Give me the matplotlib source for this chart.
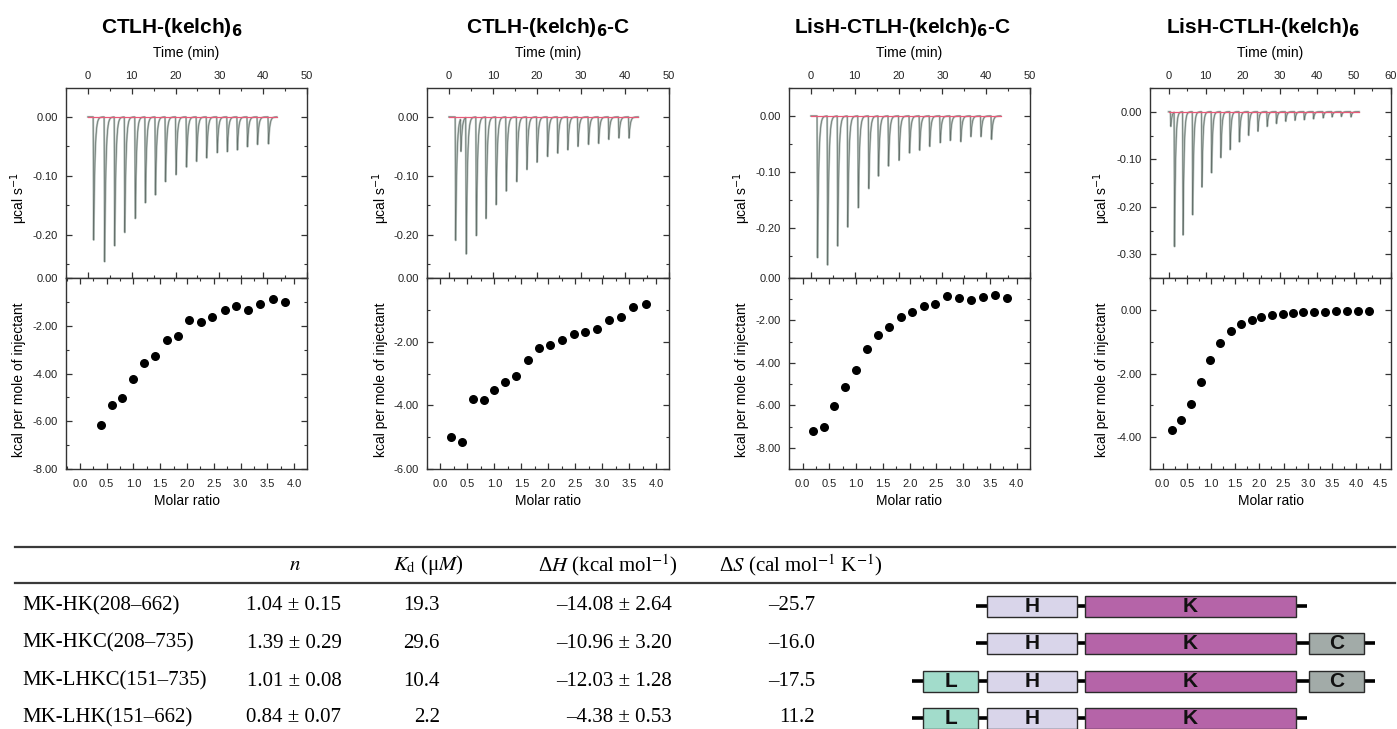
import matplotlib
matplotlib.use('Agg')
import matplotlib.pyplot as plt
import numpy as np
from matplotlib.ticker import MultipleLocator, FormatStrFormatter
from matplotlib.patches import Rectangle

plt.rcParams['font.family'] = ['Liberation Sans', 'DejaVu Sans']
plt.rcParams['axes.unicode_minus'] = False

W, H = 1397, 729

titles = [r'CTLH-(kelch)$_\mathbf{6}$', r'CTLH-(kelch)$_\mathbf{6}$-C',
          r'LisH-CTLH-(kelch)$_\mathbf{6}$-C', r'LisH-CTLH-(kelch)$_\mathbf{6}$']

# raw ITC: injection times (min) and peak minima (ucal/s)
t1 = [1.2, 3.7, 6.0, 8.3, 10.7, 13.0, 15.3, 17.6, 20.0, 22.4, 24.7, 27.0, 29.4, 31.7, 34.0, 36.3, 38.6, 41.1]
p1 = [-0.210, -0.247, -0.219, -0.196, -0.173, -0.147, -0.133, -0.110, -0.098,
      -0.085, -0.076, -0.070, -0.061, -0.059, -0.056, -0.051, -0.047, -0.046]
t2 = [1.4, 2.6, 3.8, 6.1, 8.3, 10.6, 12.9, 15.3, 17.6, 19.9, 22.3, 24.6, 26.9, 29.2, 31.6, 33.9, 36.2, 38.5, 40.8]
p2 = [-0.210, -0.056, -0.234, -0.202, -0.173, -0.150, -0.126, -0.110, -0.090, -0.077,
      -0.067, -0.062, -0.056, -0.050, -0.047, -0.045, -0.038, -0.036, -0.036]
t3 = [1.4, 3.7, 6.0, 8.3, 10.7, 13.1, 15.3, 17.6, 20.0, 22.4, 24.7, 27.0, 29.4, 31.7, 34.1, 36.4, 38.7, 41.1]
p3 = [-0.254, -0.267, -0.233, -0.199, -0.165, -0.131, -0.108, -0.090, -0.080,
      -0.067, -0.062, -0.055, -0.048, -0.044, -0.046, -0.037, -0.037, -0.042]
t4 = [0.5, 1.5, 3.8, 6.4, 8.9, 11.5, 14.0, 16.5, 19.0, 21.5, 24.0, 26.5, 29.0, 31.5, 34.0, 36.5, 39.0, 41.6, 44.0, 46.5, 49.1]
p4 = [-0.031, -0.285, -0.263, -0.219, -0.160, -0.130, -0.097, -0.080, -0.064, -0.050, -0.041,
      -0.031, -0.025, -0.020, -0.018, -0.017, -0.015, -0.013, -0.011, -0.010, -0.011]
t_end = [43.1, 43.0, 43.3, 51.4]

# integrated heats: molar ratio vs kcal per mole of injectant
r1 = [0.39, 0.59, 0.79, 0.99, 1.20, 1.40, 1.62, 1.83, 2.04, 2.26, 2.47, 2.70, 2.92, 3.13, 3.37, 3.60, 3.83]
q1 = [-6.14, -5.31, -5.03, -4.25, -3.56, -3.27, -2.61, -2.44, -1.77, -1.83, -1.63, -1.33, -1.17, -1.33, -1.08, -0.89, -1.02]
r2 = [0.20, 0.40, 0.60, 0.80, 1.00, 1.20, 1.41, 1.62, 1.83, 2.04, 2.26, 2.47, 2.69, 2.91, 3.13, 3.35, 3.58, 3.81]
q2 = [-5.00, -5.15, -3.81, -3.82, -3.53, -3.28, -3.08, -2.58, -2.21, -2.10, -1.96, -1.76, -1.71, -1.59, -1.31, -1.23, -0.91, -0.81]
r3 = [0.19, 0.39, 0.59, 0.79, 1.00, 1.20, 1.41, 1.62, 1.83, 2.04, 2.26, 2.48, 2.70, 2.92, 3.14, 3.37, 3.59, 3.82]
q3 = [-7.21, -7.00, -6.01, -5.14, -4.34, -3.33, -2.67, -2.30, -1.86, -1.59, -1.31, -1.21, -0.87, -0.96, -1.03, -0.91, -0.80, -0.96]
r4 = [0.19, 0.39, 0.59, 0.79, 0.99, 1.19, 1.41, 1.62, 1.84, 2.04, 2.26, 2.48, 2.69, 2.91, 3.13, 3.36, 3.58, 3.81, 4.04, 4.27]
q4 = [-3.78, -3.45, -2.95, -2.28, -1.57, -1.03, -0.68, -0.45, -0.31, -0.24, -0.17, -0.14, -0.10, -0.08,
      -0.07, -0.06, -0.05, -0.05, -0.04, -0.03]

# table
constructs = ['MK-HK(208–662)', 'MK-HKC(208–735)', 'MK-LHKC(151–735)', 'MK-LHK(151–662)']
n_vals = ['1.04 ± 0.15', '1.39 ± 0.29', '1.01 ± 0.08', '0.84 ± 0.07']
kd_vals = ['19.3', '29.6', '10.4', '2.2']
dh_vals = ['–14.08 ± 2.64', '–10.96 ± 3.20', '–12.03 ± 1.28', '–4.38 ± 0.53']
ds_vals = ['–25.7', '–16.0', '–17.5', '11.2']
domains = ['HK', 'HKC', 'LHKC', 'LHK']


def thermogram(times, peaks, end):
    t = np.linspace(0, end, 9000)
    y = np.zeros_like(t)
    for t0, h in zip(times, peaks):
        d = t - t0
        a = (d >= 0) & (d < 0.12)
        y[a] += h * d[a] / 0.12
        b = d >= 0.12
        y[b] += h * np.exp(-(d[b] - 0.12) / 0.28)
    return t, y


def rect(x0, x1, y0, y1):
    return [x0 / W, 1 - y1 / H, (x1 - x0) / W, (y1 - y0) / H]


fig = plt.figure(figsize=(W / 100, H / 100), dpi=100)
lay = fig.add_axes([0, 0, 1, 1])
lay.set_xlim(0, W)
lay.set_ylim(H, 0)
lay.axis('off')

xs = [(66, 307), (427, 669), (789, 1030), (1150, 1391)]
title_x = [172, 548, 902, 1263]
ylab_x = [19, 381, 742, 1102]
raw = [(t1, p1), (t2, p2), (t3, p3), (t4, p4)]
fits = [(r1, q1), (r2, q2), (r3, q3), (r4, q4)]
top_ylim = [(-0.273, 0.049), (-0.273, 0.049), (-0.29, 0.05), (-0.35, 0.05)]
top_xlim = [(-5, 50), (-5, 50), (-5, 50), (-5, 60)]
bot_ylim = [(-8, 0), (-6, 0), (-9, 0), (-5, 1)]
bot_xlim = [(-0.26, 4.24), (-0.25, 4.24), (-0.255, 4.25), (-0.26, 4.72)]

tc = '#333333'


def style(ax):
    for s in ax.spines.values():
        s.set_color(tc)
        s.set_linewidth(1.0)
    ax.tick_params(which='both', direction='in', top=True, right=True, bottom=True, left=True,
                   colors=tc, labelsize=8, labelcolor='#222222')
    ax.tick_params(which='major', length=4, width=0.9)
    ax.tick_params(which='minor', length=2.5, width=0.8)


for i in range(4):
    x0, x1 = xs[i]
    cx = (x0 + x1) / 2
    at = fig.add_axes(rect(x0, x1, 88, 278))
    t, y = thermogram(raw[i][0], raw[i][1], t_end[i])
    at.plot(t, y, color='#b7c2bd', lw=1.5)
    at.plot(t, y, color='#66716c', lw=0.5)
    at.plot([0, t_end[i]], [0, 0], color='#e85a78', lw=0.9)
    at.set_xlim(*top_xlim[i])
    at.set_ylim(*top_ylim[i])
    style(at)
    at.tick_params(labelbottom=False, labeltop=True)
    at.tick_params(axis='x', pad=5)
    at.tick_params(axis='y', pad=6)
    at.xaxis.set_major_locator(MultipleLocator(10))
    at.xaxis.set_minor_locator(MultipleLocator(5))
    at.xaxis.set_major_formatter(FormatStrFormatter('%d'))
    at.yaxis.set_major_locator(MultipleLocator(0.1))
    at.yaxis.set_minor_locator(MultipleLocator(0.05))
    at.yaxis.set_major_formatter(FormatStrFormatter('%.2f'))

    ab = fig.add_axes(rect(x0, x1, 278, 469))
    ab.scatter(fits[i][0], fits[i][1], s=30, color='black', zorder=3)
    ab.set_xlim(*bot_xlim[i])
    ab.set_ylim(*bot_ylim[i])
    style(ab)
    ab.tick_params(axis='x', pad=7)
    ab.tick_params(axis='y', pad=6)
    ab.xaxis.set_major_locator(MultipleLocator(0.5))
    ab.xaxis.set_minor_locator(MultipleLocator(0.25))
    ab.xaxis.set_major_formatter(FormatStrFormatter('%.1f'))
    ab.yaxis.set_major_locator(MultipleLocator(2))
    ab.yaxis.set_minor_locator(MultipleLocator(1))
    ab.yaxis.set_major_formatter(FormatStrFormatter('%.2f'))

    lay.text(title_x[i], 27, titles[i], fontsize=15, fontweight='bold', ha='center', va='center',
             math_fontfamily='dejavusans')
    lay.text(cx, 53, 'Time (min)', fontsize=10, ha='center', va='center')
    lay.text(cx, 501, 'Molar ratio', fontsize=10, ha='center', va='center')
    lay.text(ylab_x[i], 198, 'μcal s$^{-1}$', fontsize=10, rotation=90, ha='center', va='center',
             math_fontfamily='dejavusans')
    lay.text(ylab_x[i], 380, 'kcal per mole of injectant', fontsize=10, rotation=90,
             ha='center', va='center')

# table rules
lay.plot([15, 1395], [547, 547], color='#3a3a3a', lw=1.6)
lay.plot([15, 1395], [583, 583], color='#3a3a3a', lw=1.6)

serif = dict(family='Liberation Serif', fontsize=15, va='center', math_fontfamily='stix')
lay.text(295, 565, '$n$', ha='center', **serif)
lay.text(428, 565, r'$K_\mathrm{d}$ (μ$M$)', ha='center', **serif)
lay.text(608, 565, r'Δ$H$ (kcal mol$^{-1}$)', ha='center', **serif)
lay.text(801, 565, r'Δ$S$ (cal mol$^{-1}$ K$^{-1}$)', ha='center', **serif)

row_y = [606, 643, 681, 718]
box_span = {'L': (923, 978), 'H': (987, 1077), 'K': (1085, 1296), 'C': (1309, 1364)}
box_color = {'L': '#a2dccb', 'H': '#d9d5ea', 'K': '#b564a8', 'C': '#a2aba8'}

for j, yy in enumerate(row_y):
    lay.text(22, yy, constructs[j], ha='left', **serif)
    lay.text(294, yy, n_vals[j], ha='center', **serif)
    lay.text(440, yy, kd_vals[j], ha='right', **serif)
    lay.text(672, yy, dh_vals[j], ha='right', **serif)
    lay.text(815, yy, ds_vals[j], ha='right', **serif)

    doms = domains[j]
    start = box_span[doms[0]][0] - 11
    end = box_span[doms[-1]][1] + 11
    lay.plot([start, end], [yy, yy], color='black', lw=2.6, solid_capstyle='butt', zorder=2)
    for d in doms:
        a, b = box_span[d]
        lay.add_patch(Rectangle((a, yy - 10.5), b - a, 21, facecolor=box_color[d],
                                edgecolor='#2a2a2a', lw=1.0, zorder=3))
        lay.text((a + b) / 2, yy + 0.5, d, fontsize=15, fontweight='bold', ha='center', va='center',
                 zorder=4, color='#111111', fontstretch='condensed')

fig.savefig('out.png', dpi=100)
